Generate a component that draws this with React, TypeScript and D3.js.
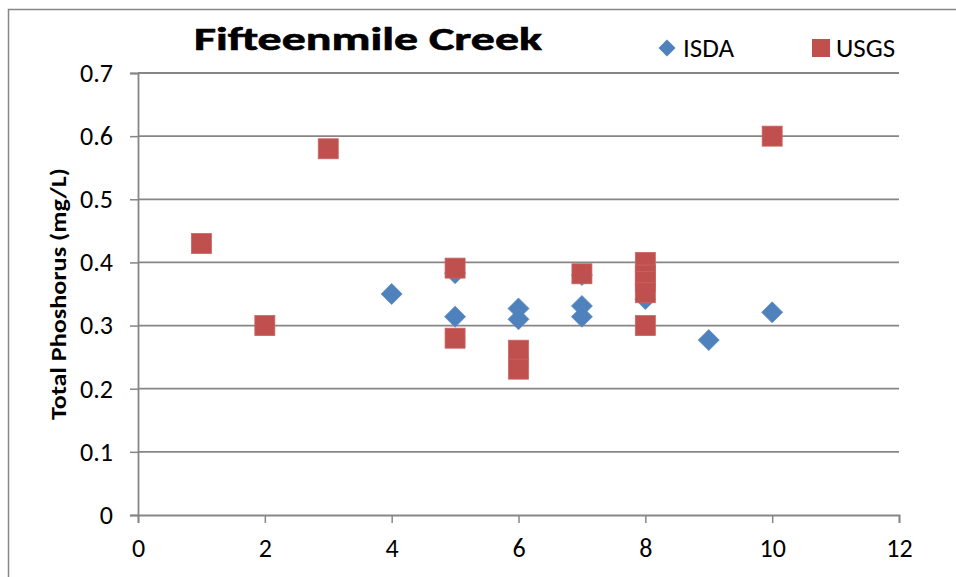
import * as d3 from "d3";
import { useEffect, useRef } from "react";

const title = "Fifteenmile Creek";
const yLabel = "Total Phoshorus (mg/L)";
const xTicks = [0, 2, 4, 6, 8, 10, 12];
const yTicks = [0, 0.1, 0.2, 0.3, 0.4, 0.5, 0.6, 0.7];

const isdaX = [4, 5, 5, 6, 6, 7, 7, 7, 8, 9, 10];
const isdaY = [0.35, 0.383, 0.314, 0.327, 0.31, 0.38, 0.331, 0.314, 0.342, 0.277, 0.321];

const usgsX = [1, 2, 3, 5, 5, 6, 6, 7, 8, 8, 8, 8, 8, 10];
const usgsY = [0.43, 0.3, 0.58, 0.391, 0.28, 0.261, 0.231, 0.382, 0.4, 0.38, 0.37, 0.352, 0.3, 0.6];

export default function App() {
    const ref = useRef<SVGSVGElement>(null);
    const width = 956,
        height = 577;
    const left = 138, right = 899, top = 73, bottom = 515;

    useEffect(() => {
        const svg = d3.select(ref.current);
        svg.selectAll("*").remove();

        const x = d3.scaleLinear().domain([0, 12]).range([left, right]);
        const y = d3.scaleLinear().domain([0, 0.7]).range([bottom, top]);
        const font = "Calibri, Carlito, 'Open Sans', sans-serif";
        const grey = "#868686";

        svg.append("rect")
            .attr("x", 8.5).attr("y", 9.5)
            .attr("width", width).attr("height", height)
            .attr("fill", "white")
            .attr("stroke", grey).attr("stroke-width", 1.5);

        // grid
        svg.append("g")
            .selectAll("line")
            .data(yTicks.slice(1))
            .join("line")
            .attr("x1", left).attr("x2", right)
            .attr("y1", d => y(d)).attr("y2", d => y(d))
            .attr("stroke", grey).attr("stroke-width", 1.8);

        const yAxis = svg.append("g")
            .attr("transform", `translate(${left},0)`)
            .call(d3.axisLeft(y).tickValues(yTicks).tickSize(8).tickPadding(17)
                .tickFormat(d => d3.format("")(+(+d).toFixed(1))));
        const xAxis = svg.append("g")
            .attr("transform", `translate(0,${bottom})`)
            .call(d3.axisBottom(x).tickValues(xTicks).tickSize(8).tickPadding(16));

        [yAxis, xAxis].forEach(g => {
            g.select(".domain").attr("stroke", grey).attr("stroke-width", 1.8);
            g.selectAll(".tick line").attr("stroke", grey).attr("stroke-width", 1.5);
            g.selectAll(".tick text")
                .attr("fill", "black")
                .style("font-family", font)
                .style("font-size", "26px");
        });

        svg.append("text")
            .attr("transform", `translate(66,${(top + bottom) / 2}) rotate(-90)`)
            .attr("x", -126)
            .attr("textLength", 252)
            .attr("lengthAdjust", "spacingAndGlyphs")
            .style("font-family", font)
            .style("font-weight", "bold")
            .style("font-size", "23px")
            .text(yLabel);

        svg.append("text")
            .attr("x", 194).attr("y", 50)
            .attr("textLength", 348)
            .attr("lengthAdjust", "spacingAndGlyphs")
            .attr("stroke", "black")
            .attr("stroke-width", 0.6)
            .style("font-family", font)
            .style("font-weight", "bold")
            .style("font-size", "33px")
            .text(title);

        const diamond = (cx: number, cy: number, r: number) =>
            `M${cx},${cy - r}L${cx + r},${cy}L${cx},${cy + r}L${cx - r},${cy}Z`;

        svg.append("g")
            .selectAll("path")
            .data(isdaX.map((v, i) => [v, isdaY[i]]))
            .join("path")
            .attr("d", d => diamond(x(d[0]), y(d[1]), 10.5))
            .attr("fill", "#4F81BD")
            .attr("stroke", "#5B8BC6")
            .attr("stroke-width", 0.8);

        svg.append("g")
            .selectAll("rect")
            .data(usgsX.map((v, i) => [v, usgsY[i]]))
            .join("rect")
            .attr("x", d => x(d[0]) - 10)
            .attr("y", d => y(d[1]) - 10)
            .attr("width", 20).attr("height", 20)
            .attr("fill", "#C0504D")
            .attr("stroke", "#C96563")
            .attr("stroke-width", 0.8);

        // legend
        svg.append("path")
            .attr("d", diamond(667, 48, 8.5))
            .attr("fill", "#4F81BD");
        svg.append("text")
            .attr("x", 683).attr("y", 57)
            .style("font-family", font).style("font-size", "27px")
            .text("ISDA");
        svg.append("rect")
            .attr("x", 812).attr("y", 39).attr("width", 18).attr("height", 18)
            .attr("fill", "#C0504D");
        svg.append("text")
            .attr("x", 836).attr("y", 57)
            .style("font-family", font).style("font-size", "27px")
            .text("USGS");
    }, []);

    return (
        <div>
            <svg ref={ref} width={width} height={height}
                style={{ position: "absolute", left: 0, top: 0 }}>
            </svg>
        </div>
    );
}
